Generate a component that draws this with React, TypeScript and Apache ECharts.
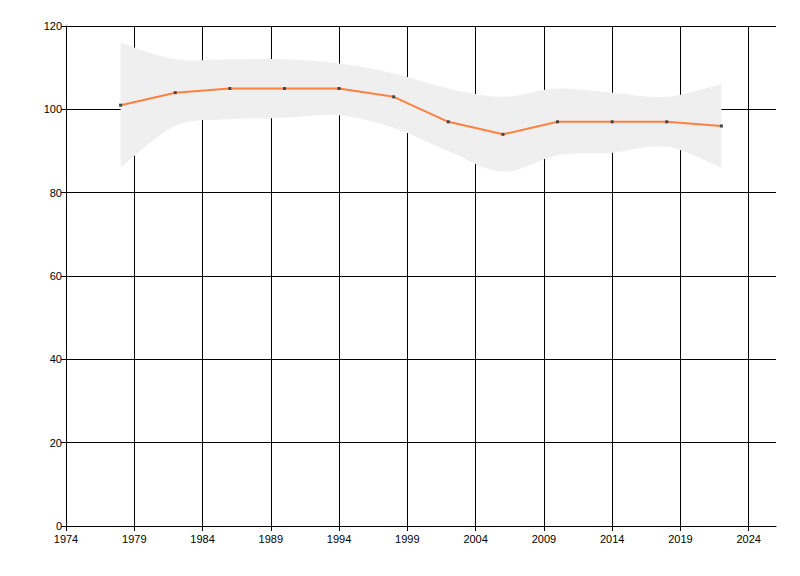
import React, { useEffect, useRef } from "react";
import * as echarts from "echarts";

const years = [1978, 1982, 1986, 1990, 1994, 1998, 2002, 2006, 2010, 2014, 2018, 2022];
const values = [101, 104, 105, 105, 105, 103, 97, 94, 97, 97, 97, 96];
const upper = [116, 112, 112, 112, 111, 108.6, 105, 103, 105, 104, 103, 106];
const lower = [86, 96, 97.6, 98, 98.6, 95.6, 90, 85, 89, 89.6, 91, 86];
const xTicks = [1974, 1979, 1984, 1989, 1994, 1999, 2004, 2009, 2014, 2019, 2024];
const yTicks = [0, 20, 40, 60, 80, 100, 120];

const FONT = "'Liberation Sans', Arial, sans-serif";

type P = number[];
function splinePath(pts: P[], start: boolean): string {
  let d = start ? `M${pts[0][0]},${pts[0][1]}` : `L${pts[0][0]},${pts[0][1]}`;
  const n = pts.length;
  for (let i = 0; i < n - 1; i++) {
    const p0 = pts[Math.max(0, i - 1)];
    const p1 = pts[i];
    const p2 = pts[i + 1];
    const p3 = pts[Math.min(n - 1, i + 2)];
    const c1x = p1[0] + (p2[0] - p0[0]) / 6;
    const c1y = p1[1] + (p2[1] - p0[1]) / 6;
    const c2x = p2[0] - (p3[0] - p1[0]) / 6;
    const c2y = p2[1] - (p3[1] - p1[1]) / 6;
    d += ` C${c1x},${c1y} ${c2x},${c2y} ${p2[0]},${p2[1]}`;
  }
  return d;
}

export default function App() {
  const ref = useRef<HTMLDivElement>(null);
  useEffect(() => {
    if (!ref.current) return;
    const chart = echarts.init(ref.current, null, { renderer: "svg" });
    const axisLabelStyle = { color: "#000", fontFamily: FONT, fontSize: 11 };
    chart.setOption({
      animation: false,
      grid: { left: 66, right: 24, top: 26, bottom: 50, containLabel: false },
      xAxis: {
        type: "value",
        min: 1974,
        max: 2026,
        axisLine: { show: true, onZero: false, lineStyle: { color: "#000", width: 1 } },
        axisTick: { show: true, length: 5, lineStyle: { color: "#000" }, customValues: xTicks },
        axisLabel: { ...axisLabelStyle, margin: 7, customValues: xTicks, formatter: (v: number) => String(v) },
        splitLine: { show: true, lineStyle: { color: "#000", width: 1 } },
      },
      yAxis: {
        type: "value",
        min: yTicks[0],
        max: yTicks[yTicks.length - 1],
        interval: 20,
        axisLine: { show: true, lineStyle: { color: "#000", width: 1 } },
        axisTick: { show: true, length: 5, lineStyle: { color: "#000" } },
        axisLabel: { ...axisLabelStyle, margin: 4 },
        splitLine: { show: true, lineStyle: { color: "#000", width: 1 } },
      },
      series: [
        {
          type: "custom",
          silent: true,
          data: years.map((y, i) => [y, lower[i], upper[i]]),
          encode: { x: 0, y: [1, 2] },
          z: 3,
          renderItem: (params: any, api: any) => {
            if (params.dataIndex !== 0) return null;
            const up = years.map((y, i) => api.coord([y, upper[i]]));
            const lo = years.map((y, i) => api.coord([y, lower[i]])).reverse();
            const d = splinePath(up, true) + " " + splinePath(lo, false) + " Z";
            return {
              type: "path",
              shape: { pathData: d },
              style: { fill: "#efefef", stroke: "none" },
            };
          },
        },
        {
          type: "line",
          data: years.map((y, i) => [y, values[i]]),
          symbol: "rect",
          symbolSize: 3,
          showSymbol: true,
          itemStyle: { color: "#444" },
          lineStyle: { color: "#ff8040", width: 2 },
          z: 5,
        },
      ],
    });
    return () => chart.dispose();
  }, []);
  return <div ref={ref} style={{ width: 800, height: 576, position: "absolute", left: 0, top: 0 }} />;
}
